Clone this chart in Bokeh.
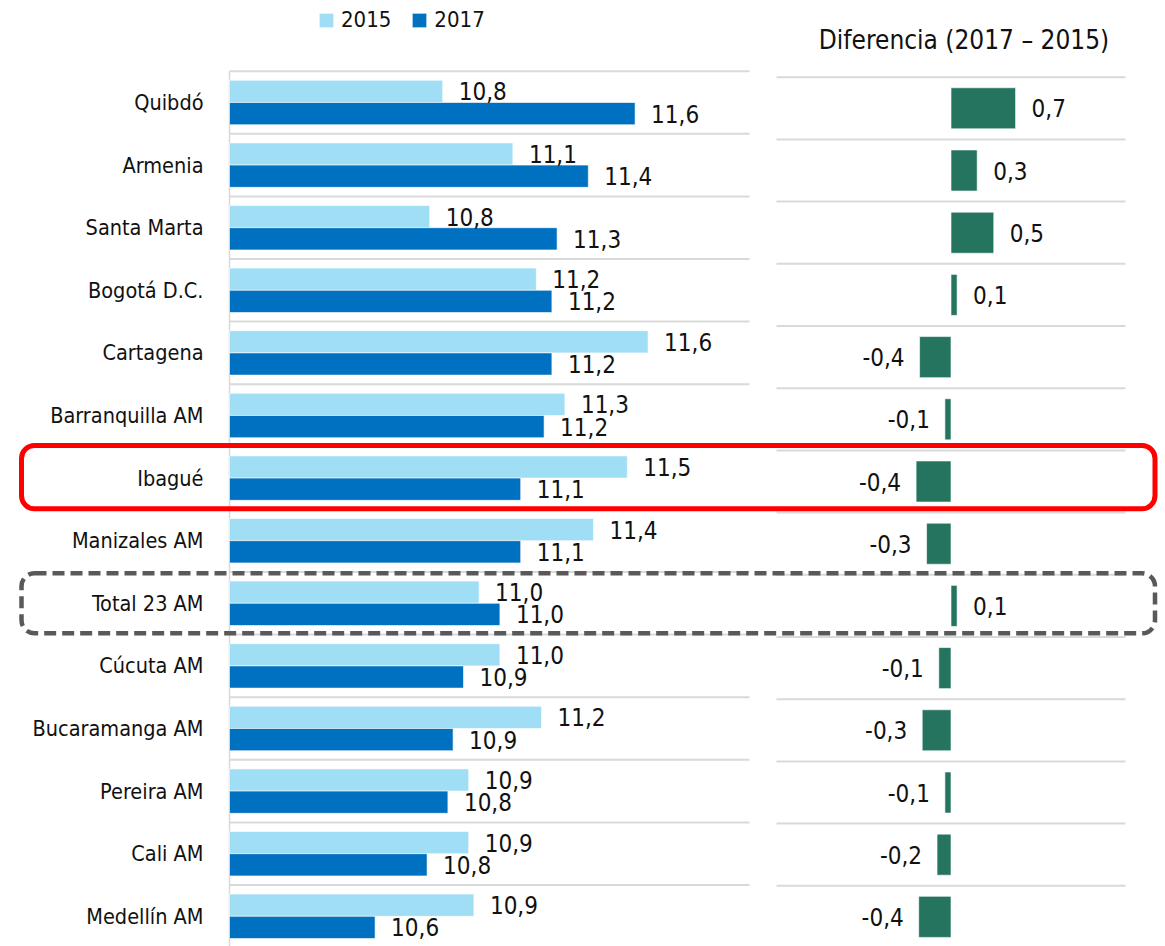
from bokeh.plotting import figure
from bokeh.models import Range1d, ColumnDataSource, BoxAnnotation, Label, Legend, LegendItem
from bokeh.core.properties import value
from bokeh.embed import file_html
from bokeh.resources import INLINE

# ---------------- data ----------------
categories = ["Quibdó", "Armenia", "Santa Marta", "Bogotá D.C.", "Cartagena",
              "Barranquilla AM", "Ibagué", "Manizales AM", "Total 23 AM",
              "Cúcuta AM", "Bucaramanga AM", "Pereira AM", "Cali AM", "Medellín AM"]
v2015 = [10.82, 11.09, 10.77, 11.18, 11.61, 11.29, 11.53, 11.40, 10.96,
         11.04, 11.20, 10.92, 10.92, 10.94]
v2017 = [11.56, 11.38, 11.26, 11.24, 11.24, 11.21, 11.12, 11.12, 11.04,
         10.90, 10.86, 10.84, 10.76, 10.56]
diff = [0.74, 0.30, 0.49, 0.07, -0.36, -0.07, -0.40, -0.28, 0.07,
        -0.14, -0.33, -0.07, -0.16, -0.37]
series_names = ["2015", "2017"]
highlight_red = "Ibagué"
highlight_dash = "Total 23 AM"
title_diff = "Diferencia (2017 – 2015)"

# ---------------- style / layout ----------------
FONT = "DejaVu Sans Condensed"
C15, C17, CDIFF = "#A0DEF6", "#0070C0", "#24745F"
GRID = "#D9D9D9"
TXT = "#111111"

FIG_W, FIG_H = 1165, 946
AX_MIN, AX_MAX = 10.0, 12.0          # left panel value axis
X0_PX, PX_PER = 229.0, 260.0
D_MIN, D_MAX = -2.0, 2.0              # difference panel axis
D0_PX, D_PER = 950.5, 87.25
ROW0, ROW_H = 102.0, 62.6             # left rows
DROW0, DROW_H = 107.8, 62.2           # right rows

def fmt(v):
    return f"{v:.1f}".replace(".", ",")

n = len(categories)
idx = list(range(n))
BAR_H = 0.355

p = figure(width=FIG_W, height=FIG_H,
           x_range=Range1d(AX_MIN - X0_PX / PX_PER, AX_MIN + (FIG_W - X0_PX) / PX_PER),
           y_range=Range1d((FIG_H - ROW0) / ROW_H, -ROW0 / ROW_H),
           output_backend="svg", toolbar_location=None, min_border=0,
           x_axis_location=None, y_axis_location=None,
           outline_line_color=None, background_fill_color="white")
p.grid.visible = False
p.extra_x_ranges = {"diff": Range1d(-D0_PX / D_PER, (FIG_W - D0_PX) / D_PER)}
p.extra_y_ranges = {"diffy": Range1d((FIG_H - DROW0) / DROW_H, -DROW0 / DROW_H)}

# grid lines (row separators)
p.segment(x0=[AX_MIN] * (n + 1), x1=[AX_MAX] * (n + 1),
          y0=[k - 0.5 for k in range(n + 1)], y1=[k - 0.5 for k in range(n + 1)],
          line_color=GRID, line_width=2)
p.segment(x0=[D_MIN] * (n + 1), x1=[D_MAX] * (n + 1),
          y0=[k - 0.5 for k in range(n + 1)], y1=[k - 0.5 for k in range(n + 1)],
          line_color=GRID, line_width=2, x_range_name="diff", y_range_name="diffy")
# category axis line
p.segment(x0=[AX_MIN], x1=[AX_MIN], y0=[-0.5], y1=[n], line_color=GRID, line_width=1.5)

src = ColumnDataSource(dict(
    cat=categories, y=idx,
    y15=[i - BAR_H / 2 for i in idx], y17=[i + BAR_H / 2 for i in idx],
    v15=v2015, v17=v2017, l15=[fmt(v) for v in v2015], l17=[fmt(v) for v in v2017],
    d=diff, dl=[fmt(v) for v in diff],
    dalign=["left" if v >= 0 else "right" for v in diff],
    doff=[16 if v >= 0 else -15 for v in diff],
))

r15 = p.hbar(y="y15", left=AX_MIN, right="v15", height=BAR_H, source=src,
             fill_color=C15, line_color="white", line_width=0.6)
r17 = p.hbar(y="y17", left=AX_MIN, right="v17", height=BAR_H, source=src,
             fill_color=C17, line_color="white", line_width=0.6)

txt_kw = dict(text_font=value(FONT), text_font_size="24px", text_color=TXT,
              text_baseline="middle")
p.text(x="v15", y="y15", text="l15", x_offset=16, text_align="left", source=src, **txt_kw)
p.text(x="v17", y="y17", text="l17", x_offset=16, text_align="left", source=src, **txt_kw)

# category names
p.text(x=AX_MIN, y="y", text="cat", x_offset=-26, text_align="right", source=src,
       text_font=value(FONT), text_font_size="21.5px", text_color=TXT, text_baseline="middle")

# difference panel
p.hbar(y="y", left=0, right="d", height=0.66, source=src, fill_color=CDIFF,
       line_color="white", line_width=0.6, x_range_name="diff", y_range_name="diffy")
p.text(x="d", y="y", text="dl", x_offset="doff", text_align="dalign", source=src,
       x_range_name="diff", y_range_name="diffy", **txt_kw)

p.add_layout(Label(x=0, y=-0.5 - 37.7 / DROW_H, x_offset=13, text=title_diff,
                   x_range_name="diff", y_range_name="diffy",
                   text_align="center", text_baseline="middle",
                   text_font=FONT, text_font_size="26px", text_color=TXT))

# highlight boxes
box_left = AX_MIN - (X0_PX - 21) / PX_PER
box_right = AX_MIN + (1154.5 - X0_PX) / PX_PER
ri = categories.index(highlight_red)
di = categories.index(highlight_dash)
p.add_layout(BoxAnnotation(left=box_left, right=box_right, top=ri - 0.52, bottom=ri + 0.49,
                           fill_alpha=0, fill_color=None, line_color="#FF0000",
                           line_alpha=1.0, line_width=5, border_radius=13))
p.add_layout(BoxAnnotation(left=box_left, right=box_right, top=di - 0.48, bottom=di + 0.48,
                           fill_alpha=0, fill_color=None, line_color="#595959",
                           line_alpha=1.0, line_width=4.5, line_dash="12 6", border_radius=13))

legend = Legend(items=[LegendItem(label=series_names[0], renderers=[r15]),
                       LegendItem(label=series_names[1], renderers=[r17])],
                orientation="horizontal", location=(317, FIG_H - 32),
                border_line_color=None, background_fill_alpha=0, padding=0, margin=0,
                spacing=19, label_standoff=6, glyph_width=18, glyph_height=18,
                label_text_font=FONT, label_text_font_size="22px", label_text_color=TXT)
p.add_layout(legend)

open("out.html", "w").write(file_html(p, INLINE))
